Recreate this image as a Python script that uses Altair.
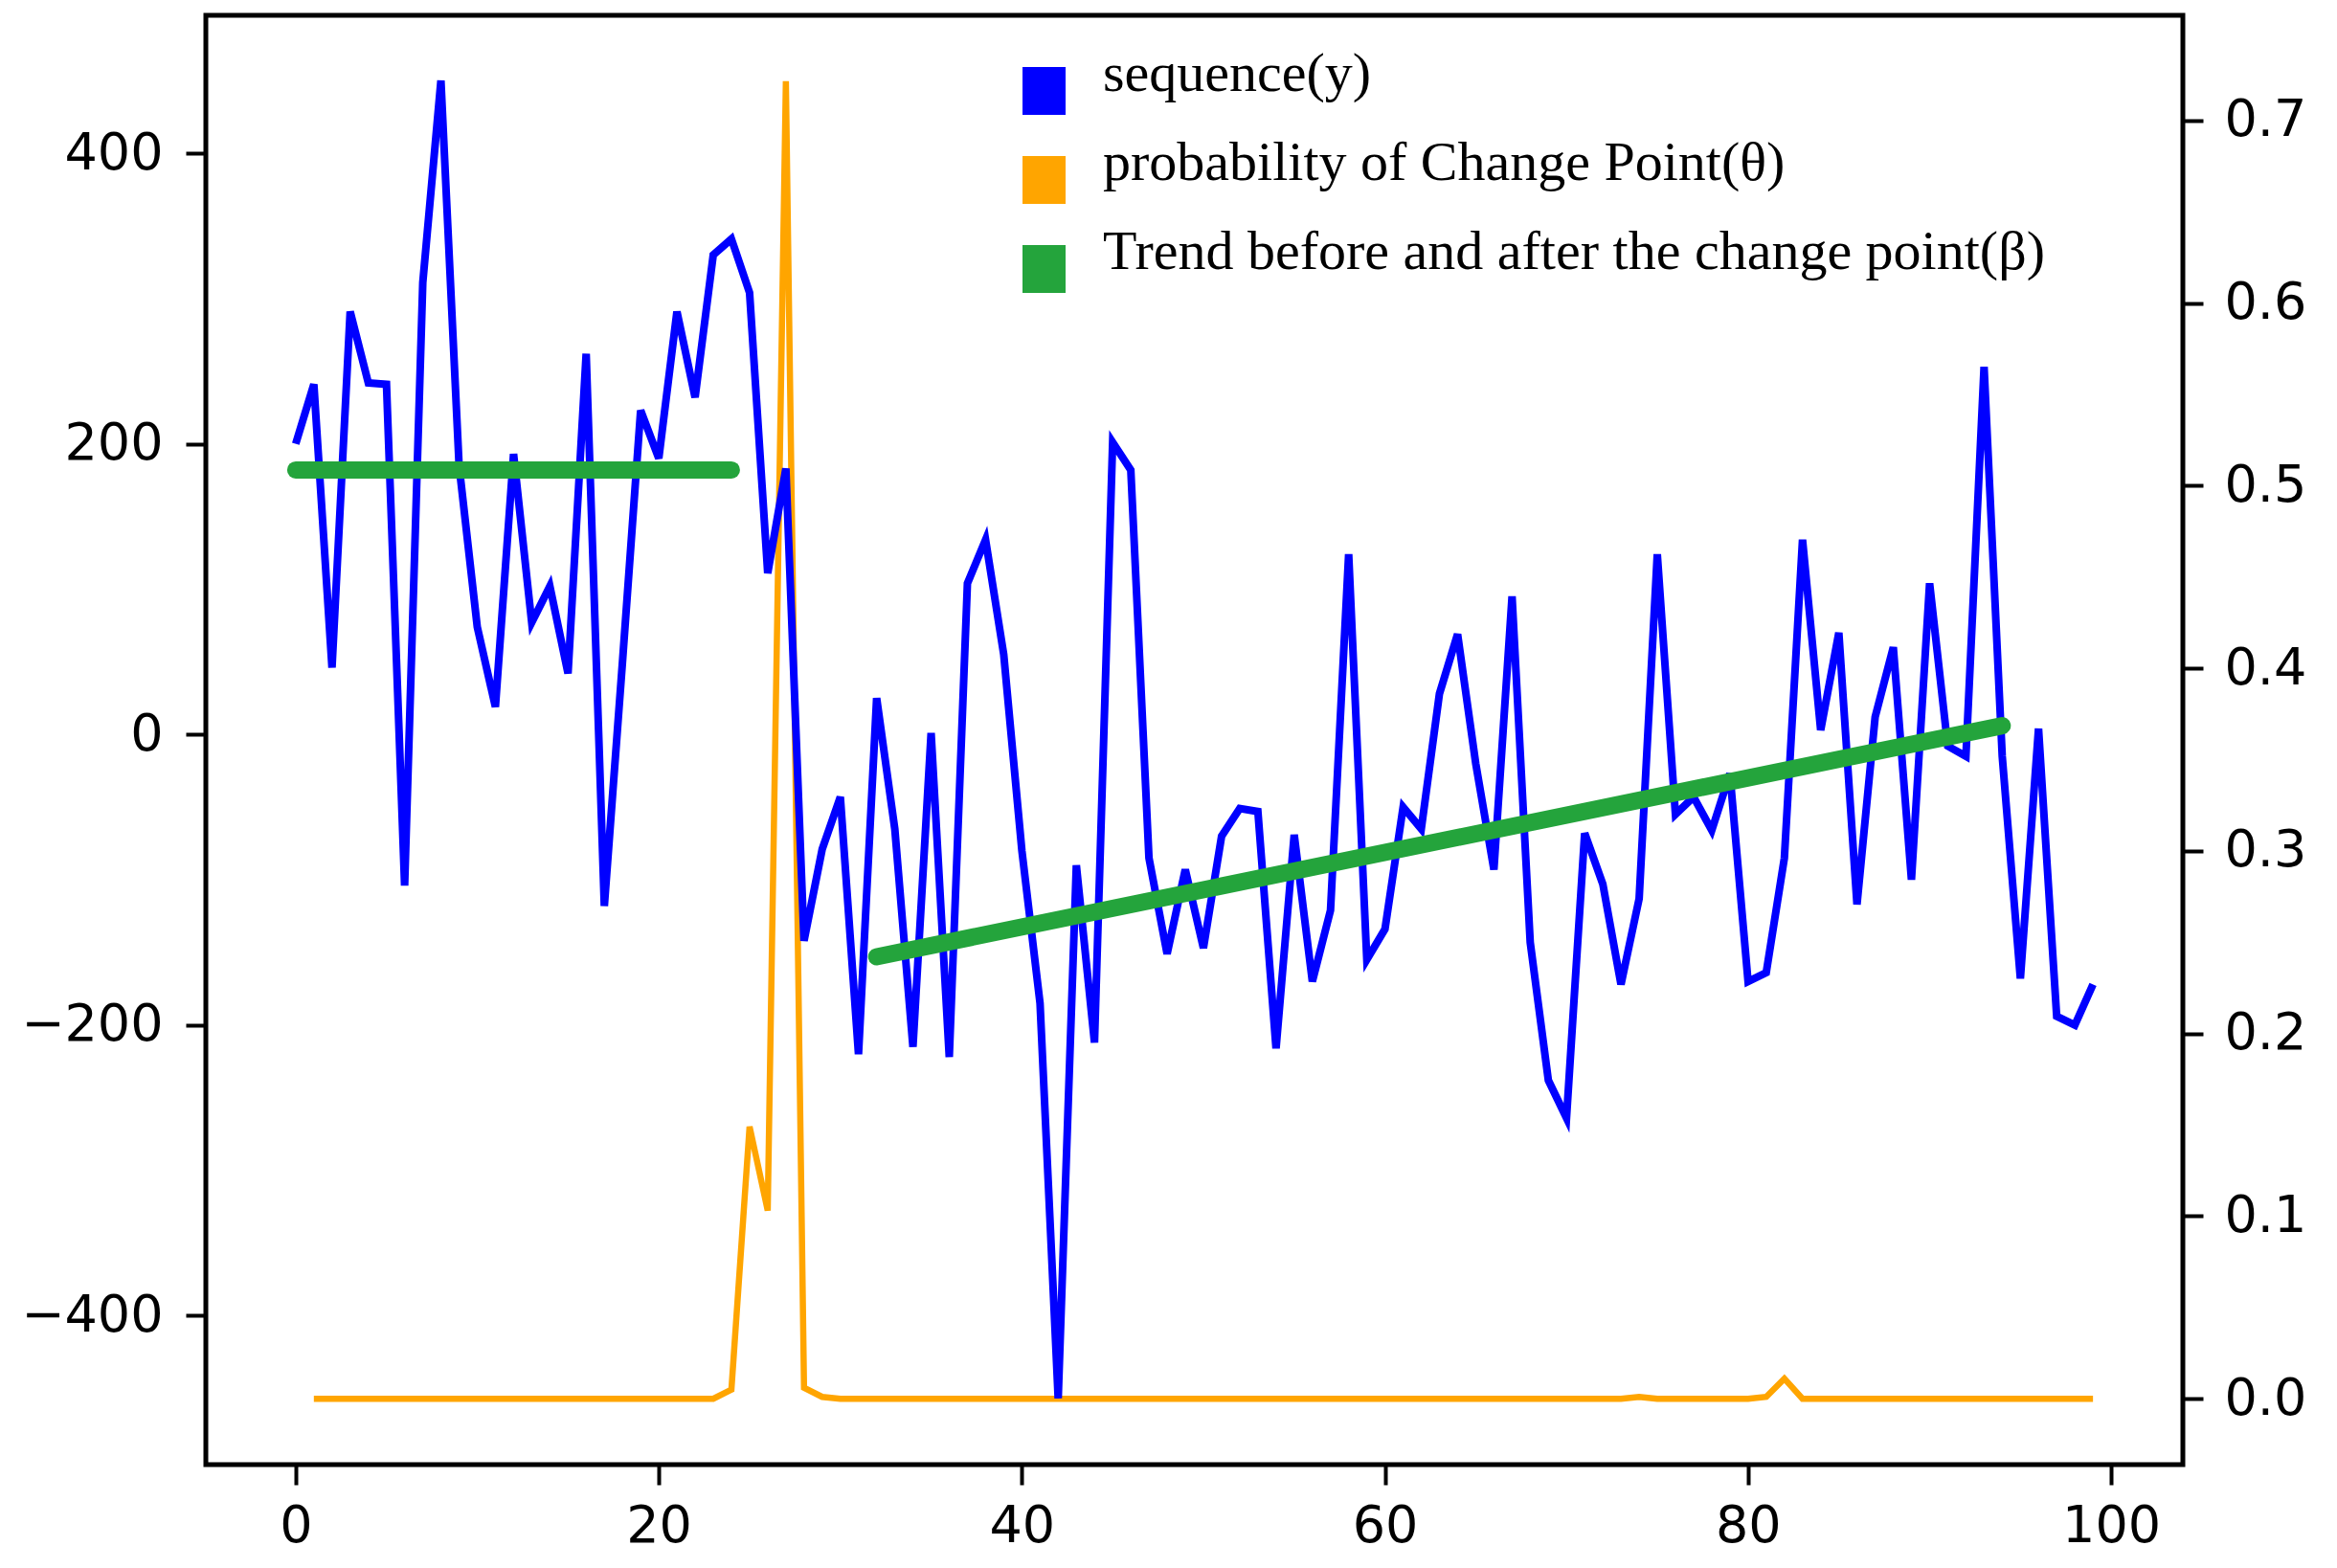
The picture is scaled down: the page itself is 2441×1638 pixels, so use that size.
import altair as alt
import pandas as pd

# ---- data ----
SEQ_X = list(range(100))
SEQ_Y = [200, 241, 46, 291, 242, 241, -104, 311, 450, 185,
         74, 19, 193, 77, 102, 42, 262, -118, 50, 223,
         190, 291, 232, 330, 341, 304, 111, 183, -142, -79,
         -43, -220, 25, -65, -215, 1, -222, 104, 134, 55,
         -80, -185, -457, -90, -212, 201, 182, -85, -151, -93,
         -147, -70, -51, -53, -216, -69, -170, -121, 124, -155,
         -134, -50, -65, 28, 69, -20, -93, 95, -143, -238,
         -264, -68, -103, -172, -113, 124, -55, -43, -66, -27,
         -170, -164, -85, 134, 3, 70, -117, 12, 60, -100,
         104, -8, -15, 253, -15, -168, 4, -194, -200, -172]

PROB_X = list(range(1, 100))
PROB = [0.0, 0.0, 0.0, 0.0, 0.0, 0.0, 0.0, 0.0, 0.0, 0.0,
        0.0, 0.0, 0.0, 0.0, 0.0, 0.0, 0.0, 0.0, 0.0, 0.0,
        0.0, 0.0, 0.0, 0.005, 0.149, 0.103, 0.7215, 0.006, 0.001, 0.0,
        0.0, 0.0, 0.0, 0.0, 0.0, 0.0, 0.0, 0.0, 0.0, 0.0,
        0.0, 0.0, 0.0, 0.0, 0.0, 0.0, 0.0, 0.0, 0.0, 0.0,
        0.0, 0.0, 0.0, 0.0, 0.0, 0.0, 0.0, 0.0, 0.0, 0.0,
        0.0, 0.0, 0.0, 0.0, 0.0, 0.0, 0.0, 0.0, 0.0, 0.0,
        0.0, 0.0, 0.0, 0.001, 0.0, 0.0, 0.0, 0.0, 0.0, 0.0,
        0.001, 0.011, 0.0, 0.0, 0.0, 0.0, 0.0, 0.0, 0.0, 0.0,
        0.0, 0.0, 0.0, 0.0, 0.0, 0.0, 0.0, 0.0, 0.0]

TREND_X = [0, 24, 32, 94]
TREND_Y = [182, 182, -153, 6]
TREND_SEG = ["before", "before", "after", "after"]

LEGEND_LABELS = ["sequence(y)",
                 "probability of Change Point(θ)",
                 "Trend before and after the change point(β)"]
COLORS = ["#0000ff", "#ffa500", "#24a43c"]

X_TICKS = [0, 20, 40, 60, 80, 100]
Y_TICKS = [-400, -200, 0, 200, 400]
P_TICKS = [0.0, 0.1, 0.2, 0.3, 0.4, 0.5, 0.6, 0.7]

seq_df = pd.DataFrame({"x": SEQ_X, "y": SEQ_Y})
prob_df = pd.DataFrame({"x": PROB_X, "p": PROB})
trend_df = pd.DataFrame({"x": TREND_X, "y": TREND_Y, "seg": TREND_SEG})
legend_df = pd.DataFrame({"series": LEGEND_LABELS, "x": [0, 0, 0], "y": [0, 0, 0]})

x_scale = alt.Scale(domain=[-4.95, 103.95], nice=False, zero=False)
y_scale = alt.Scale(domain=[-502.5, 494.9], nice=False, zero=False)
p_scale = alt.Scale(domain=[-0.0361, 0.7576], nice=False, zero=False)

x_axis = alt.Axis(values=X_TICKS, title=None, orient="bottom", format="d",
                  labelFlush=False, labelOverlap=False)
y_axis = alt.Axis(values=Y_TICKS, title=None, orient="left", format="d",
                  labelOverlap=False)
p_axis = alt.Axis(values=P_TICKS, title=None, orient="right", format=".1f",
                  labelOverlap=False)

X = alt.X("x:Q", scale=x_scale, axis=x_axis)

orange = alt.Chart(prob_df).mark_line(color=COLORS[1], strokeWidth=6.5).encode(
    x=X,
    y=alt.Y("p:Q", scale=p_scale, axis=p_axis),
)

blue = alt.Chart(seq_df).mark_line(color=COLORS[0], strokeWidth=8).encode(
    x=X,
    y=alt.Y("y:Q", scale=y_scale, axis=y_axis),
)

green = alt.Chart(trend_df).mark_line(color=COLORS[2], strokeWidth=18,
                                      strokeCap="round").encode(
    x=X,
    y=alt.Y("y:Q", scale=y_scale, axis=y_axis),
    detail="seg:N",
)

legend_layer = alt.Chart(legend_df).mark_point(filled=True, opacity=1).encode(
    x=X,
    y=alt.Y("y:Q", scale=y_scale, axis=y_axis),
    color=alt.Color(
        "series:N",
        scale=alt.Scale(domain=LEGEND_LABELS, range=COLORS),
        legend=alt.Legend(
            orient="none", legendX=846.5, legendY=50, title=None,
            symbolType="M-0.9,-1H0.9V1H-0.9Z", symbolSize=2500,
            symbolStrokeWidth=0, symbolOpacity=1,
            labelFont="Liberation Serif", labelFontSize=58, labelColor="black",
            labelLimit=0, labelOffset=32.5, rowPadding=22, padding=0,
            labelBaseline="alphabetic", direction="vertical",
        ),
    ),
).transform_filter("datum.x > 1000")

left = alt.layer(blue, green, legend_layer)

chart = alt.layer(orange, left).resolve_scale(y="independent").properties(
    width=2065, height=1514,
    autosize=alt.AutoSizeParams(type="none"),
    padding={"left": 207, "top": 8, "right": 150, "bottom": 98},
    background="white",
).configure_view(
    stroke="black", strokeWidth=5
).configure_axis(
    labelFont="DejaVu Sans", labelFontSize=54, labelColor="black",
    tickColor="black", tickWidth=4, tickSize=21, domain=False, grid=False,
).configure_axisLeft(labelPadding=24).configure_axisRight(
    labelPadding=22).configure_axisBottom(labelPadding=16)

chart.save("out.html", embed_options={"renderer": "svg", "actions": False})
